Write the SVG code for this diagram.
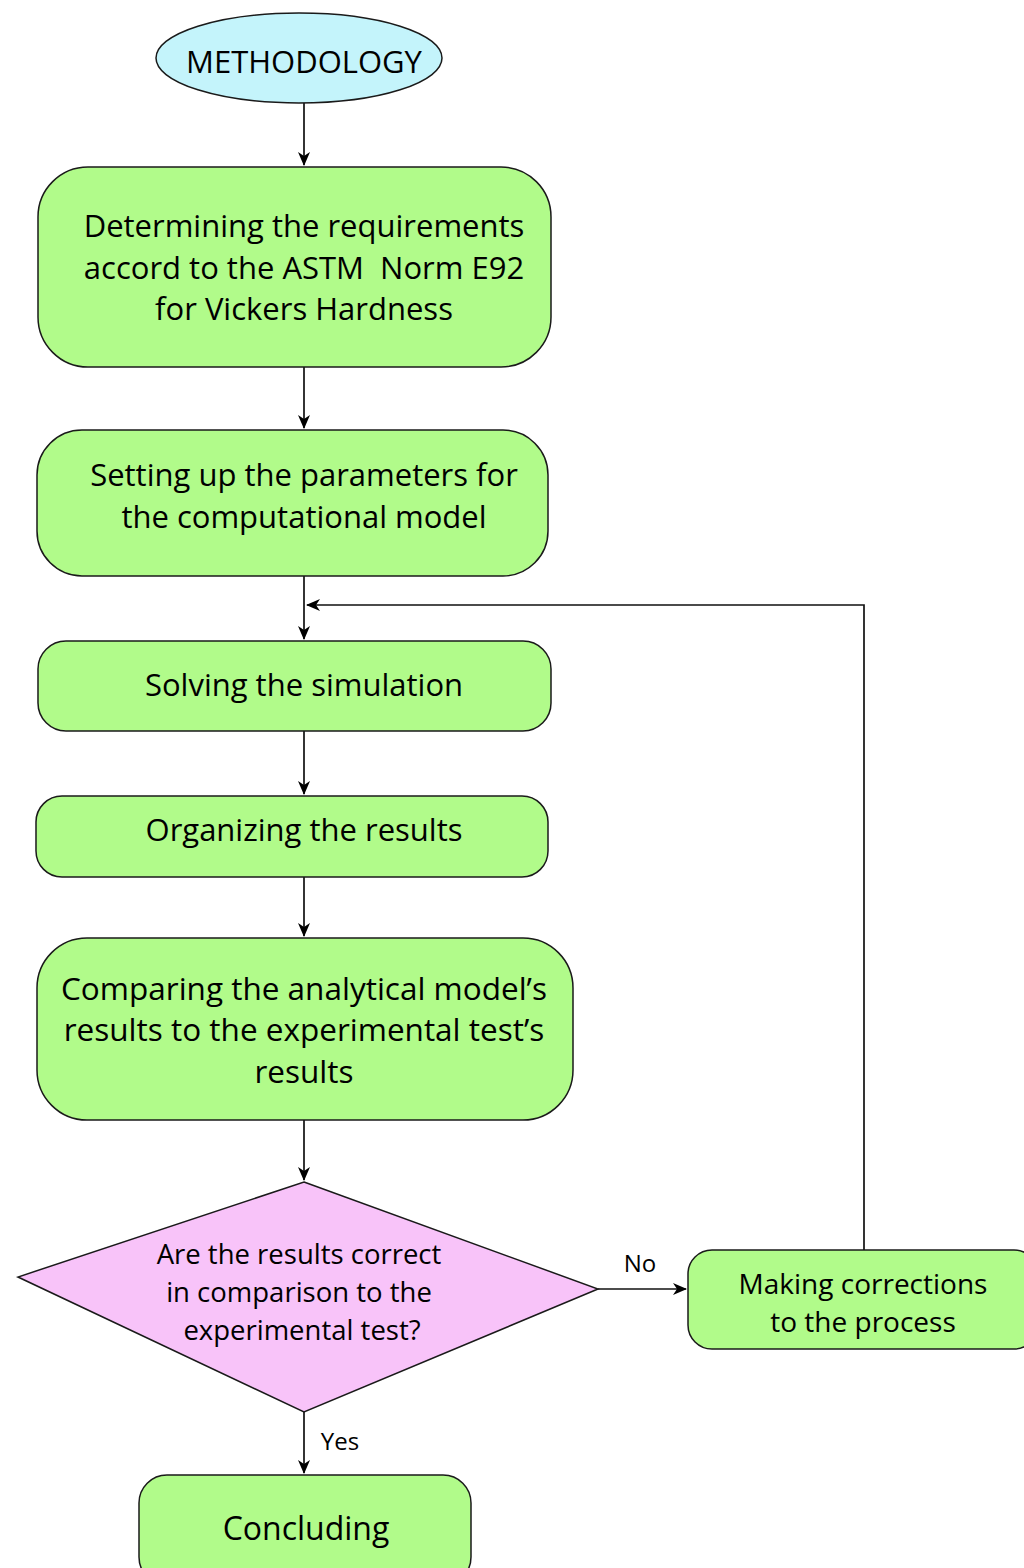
<svg xmlns="http://www.w3.org/2000/svg" width="1024" height="1568" viewBox="0 0 1024 1568">
<style>
.box{fill:#b1fb8a;stroke:#1a1a1a;stroke-width:1.5}
.dia{fill:#f8c3f9;stroke:#1a1a1a;stroke-width:1.5}
.ell{fill:#c4f4fb;stroke:#1a1a1a;stroke-width:1.5}
.t{font-family:"Open Sans","Noto Sans",sans-serif;fill:#000;text-anchor:middle;dominant-baseline:central}
.c{stroke:#111;stroke-width:1.7;fill:none}
</style>
<defs>
<marker id="ah" viewBox="0 0 14 14" refX="13" refY="7" markerWidth="14" markerHeight="14" markerUnits="userSpaceOnUse" orient="auto">
<path d="M0,1 L14,7 L0,13 L4,7 Z" fill="#000"/>
</marker>
</defs>
<rect width="1024" height="1568" fill="#fff"/>
<g id="connectors">
<line class="c" x1="304" y1="103" x2="304" y2="165" marker-end="url(#ah)"/>
<line class="c" x1="304" y1="367" x2="304" y2="428" marker-end="url(#ah)"/>
<line class="c" x1="304" y1="576" x2="304" y2="639" marker-end="url(#ah)"/>
<polyline class="c" points="864,1250 864,605 307,605" marker-end="url(#ah)"/>
<line class="c" x1="304" y1="731" x2="304" y2="794" marker-end="url(#ah)"/>
<line class="c" x1="304" y1="877" x2="304" y2="936" marker-end="url(#ah)"/>
<line class="c" x1="304" y1="1120" x2="304" y2="1180" marker-end="url(#ah)"/>
<line class="c" x1="598" y1="1289" x2="686" y2="1289" marker-end="url(#ah)"/>
<line class="c" x1="304" y1="1412" x2="304" y2="1473" marker-end="url(#ah)"/>
<text class="t" x="640" y="1262" font-size="24">No</text>
<text class="t" x="340" y="1440" font-size="24">Yes</text>
</g>
<g id="n-methodology">
<ellipse class="ell" cx="299" cy="58" rx="143" ry="45"/>
<text class="t" x="304" y="61" font-size="31">METHODOLOGY</text>
</g>
<g id="n-requirements">
<rect class="box" x="38" y="167" width="513" height="200" rx="50"/>
<text class="t" font-size="31" xml:space="preserve"><tspan x="304" y="225">Determining the requirements</tspan><tspan x="304" y="267">accord to the ASTM  Norm E92</tspan><tspan x="304" y="308">for Vickers Hardness</tspan></text>
</g>
<g id="n-parameters">
<rect class="box" x="37" y="430" width="511" height="146" rx="45"/>
<text class="t" font-size="31"><tspan x="304" y="474">Setting up the parameters for</tspan><tspan x="304" y="516">the computational model</tspan></text>
</g>
<g id="n-solving">
<rect class="box" x="38" y="641" width="513" height="90" rx="28"/>
<text class="t" font-size="31" x="304" y="684">Solving the simulation</text>
</g>
<g id="n-organizing">
<rect class="box" x="36" y="796" width="512" height="81" rx="26"/>
<text class="t" font-size="31" x="304" y="829">Organizing the results</text>
</g>
<g id="n-comparing">
<rect class="box" x="37" y="938" width="536" height="182" rx="50"/>
<text class="t" font-size="31.5"><tspan x="304" y="987">Comparing the analytical model’s</tspan><tspan x="304" y="1028">results to the experimental test’s</tspan><tspan x="304" y="1070">results</tspan></text>
</g>
<g id="n-decision">
<polygon class="dia" points="304,1182 598,1289 304,1412 18,1277"/>
<text class="t" font-size="27.5"><tspan x="299" y="1253">Are the results correct</tspan><tspan x="299" y="1291">in comparison to the</tspan><tspan x="302" y="1329">experimental test?</tspan></text>
</g>
<g id="n-corrections">
<rect class="box" x="688" y="1250" width="350" height="99" rx="24"/>
<text class="t" font-size="28"><tspan x="863" y="1283">Making corrections</tspan><tspan x="863" y="1321">to the process</tspan></text>
</g>
<g id="n-concluding">
<rect class="box" x="139" y="1475" width="332" height="110" rx="28"/>
<text class="t" font-size="32" x="306" y="1527">Concluding</text>
</g>
</svg>
